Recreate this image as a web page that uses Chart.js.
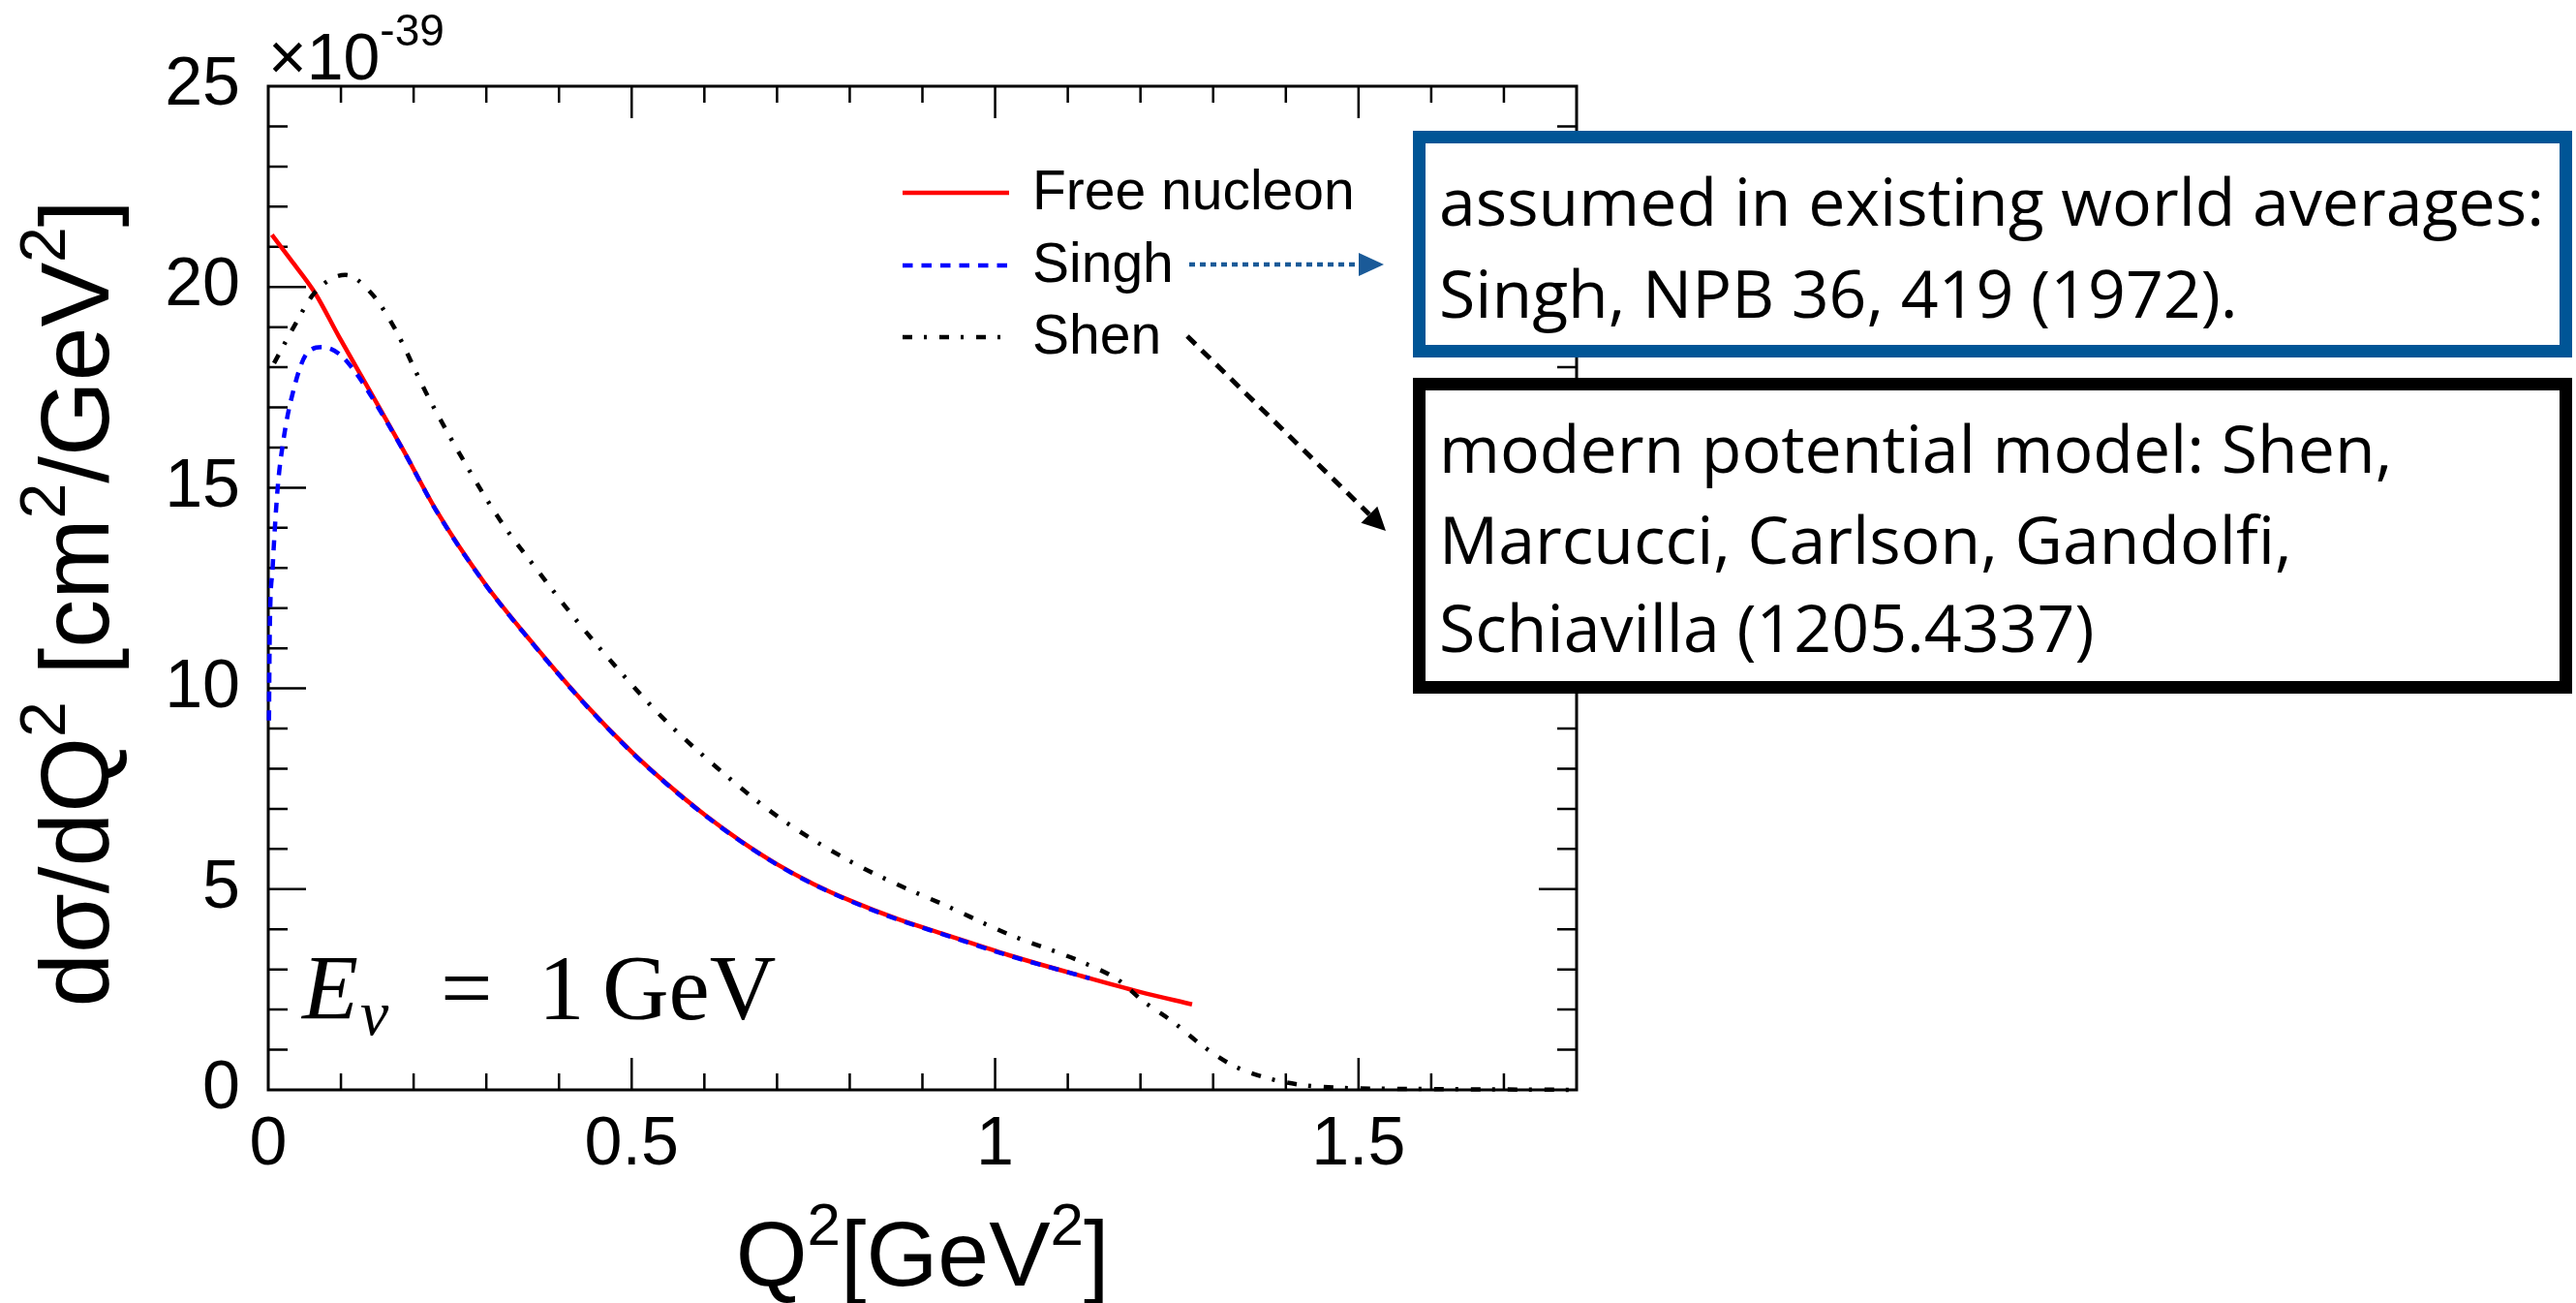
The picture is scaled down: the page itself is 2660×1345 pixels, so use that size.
<!DOCTYPE html>
<html>
<head>
<meta charset="utf-8">
<script src="https://cdn.jsdelivr.net/npm/chart.js@4.4.1/dist/chart.umd.min.js"></script>
<style>
  html, body { margin: 0; padding: 0; background: #fff; }
  #wrap { position: relative; width: 2660px; height: 1345px; overflow: hidden; background: #fff; }
  #c { position: absolute; left: 0; top: 0; }
  .box { position: absolute; box-sizing: border-box; background: #fff; border: 13px solid #000; }
  .box .ln { position: absolute; left: 14px; white-space: nowrap; font-family: 'Open Sans', sans-serif;
             font-size: 68px; line-height: 68px; color: #000; }
</style>
</head>
<body>
<div id="wrap">
  <canvas id="c" width="2660" height="1345"></canvas>
  <div class="box" id="boxSingh" style="left:1459px; top:135px; width:1197px; height:234px; border-color:#005596;">
    <div class="ln" style="top:25px;">assumed in existing world averages:</div>
    <div class="ln" style="top:120px;">Singh, NPB 36, 419 (1972).</div>
  </div>
  <div class="box" id="boxShen" style="left:1459px; top:390px; width:1197px; height:326px;">
    <div class="ln" style="top:25px;">modern potential model: Shen,</div>
    <div class="ln" style="top:119px;">Marcucci, Carlson, Gandolfi,</div>
    <div class="ln" style="top:210px;">Schiavilla (1205.4337)</div>
  </div>
</div>
<script>
// ---------------- data ----------------
const seriesLabels = ['Free nucleon', 'Singh', 'Shen'];

const q2Free   = [0.005, 0.03, 0.064, 0.097, 0.141, 0.186, 0.23, 0.297, 0.364, 0.435, 0.5, 0.55, 0.6, 0.65, 0.7, 0.75, 0.8, 0.865, 0.931, 1.018, 1.12, 1.199, 1.271];
const sigFree  = [21.3, 20.7, 19.86, 18.77, 17.37, 15.93, 14.47, 12.64, 11.12, 9.63, 8.42, 7.6, 6.86, 6.2, 5.62, 5.13, 4.72, 4.26, 3.87, 3.36, 2.83, 2.44, 2.13];

const q2Singh  = [0.001, 0.002, 0.006, 0.013, 0.021, 0.031, 0.053, 0.075, 0.097, 0.119, 0.141, 0.186, 0.23, 0.297, 0.364, 0.435, 0.5, 0.55, 0.6, 0.65, 0.7, 0.75, 0.8, 0.865, 0.931, 1.018, 1.13];
const sigSingh = [9.2, 11.3, 13.0, 15.0, 16.2, 17.16, 18.34, 18.5, 18.34, 17.9, 17.3, 15.92, 14.46, 12.63, 11.11, 9.62, 8.41, 7.59, 6.85, 6.19, 5.61, 5.12, 4.71, 4.25, 3.86, 3.35, 2.78];

const q2Shen   = [0.008, 0.035, 0.064, 0.106, 0.141, 0.173, 0.217, 0.266, 0.319, 0.373, 0.426, 0.488, 0.541, 0.6, 0.7, 0.8, 0.865, 0.931, 1.018, 1.12, 1.17, 1.203, 1.245, 1.286, 1.328, 1.375, 1.423, 1.476, 1.53, 1.6, 1.7, 1.8];
const sigShen  = [18.1, 19.0, 19.86, 20.3, 19.86, 19.0, 17.37, 15.76, 14.19, 12.88, 11.65, 10.34, 9.3, 8.3, 6.82, 5.7, 5.12, 4.6, 3.88, 3.18, 2.73, 2.22, 1.69, 1.09, 0.6, 0.29, 0.12, 0.05, 0.03, 0.02, 0.01, 0.0];

const xTickValues = [0, 0.5, 1, 1.5];
const xTickLabels = ['0', '0.5', '1', '1.5'];
const yTickValues = [0, 5, 10, 15, 20, 25];
const yTickLabels = ['0', '5', '10', '15', '20', '25'];
const xRange = [0, 1.8];
const yRange = [0, 25];
const xMinorStep = 0.1, yMinorStep = 1;

// ---------------- helpers ----------------
function toXY(xs, ys) { return xs.map((x, i) => ({ x: x, y: ys[i] })); }

function drawRich(ctx, parts, x, y, align) {
  let total = 0;
  const widths = parts.map(p => {
    ctx.font = (p.style || '') + ' ' + p.size + 'px ' + p.family;
    const w = ctx.measureText(p.t).width;
    total += w + (p.gap || 0);
    return w;
  });
  let cx = align === 'center' ? x - total / 2 : (align === 'right' ? x - total : x);
  parts.forEach((p, i) => {
    ctx.font = (p.style || '') + ' ' + p.size + 'px ' + p.family;
    ctx.fillText(p.t, cx, y + (p.dy || 0));
    cx += widths[i] + (p.gap || 0);
  });
}

function arrowHead(ctx, x0, y0, x1, y1, len, half, color) {
  const a = Math.atan2(y1 - y0, x1 - x0);
  const bx = x1 - len * Math.cos(a), by = y1 - len * Math.sin(a);
  ctx.save();
  ctx.setLineDash([]);
  ctx.fillStyle = color;
  ctx.beginPath();
  ctx.moveTo(x1, y1);
  ctx.lineTo(bx + half * Math.sin(a), by - half * Math.cos(a));
  ctx.lineTo(bx - half * Math.sin(a), by + half * Math.cos(a));
  ctx.closePath();
  ctx.fill();
  ctx.restore();
}

const SANS = "'Liberation Sans', Arial, sans-serif";
const SERIF = "'Liberation Serif', 'Times New Roman', serif";

const rootStyle = {
  id: 'rootStyle',
  beforeDatasetsDraw(chart) {
    const { ctx, chartArea: a, scales: { x, y } } = chart;
    ctx.save();
    ctx.strokeStyle = '#000';
    ctx.lineWidth = 3;
    ctx.strokeRect(a.left, a.top, a.right - a.left, a.bottom - a.top);
    ctx.lineWidth = 2.5;
    ctx.beginPath();
    const nx = Math.round((xRange[1] - xRange[0]) / xMinorStep);
    for (let i = 1; i < nx; i++) {
      const px = x.getPixelForValue(xRange[0] + i * xMinorStep);
      const len = (i % 5 === 0) ? 33 : 17;
      ctx.moveTo(px, a.bottom); ctx.lineTo(px, a.bottom - len);
      ctx.moveTo(px, a.top); ctx.lineTo(px, a.top + len);
    }
    const ny = Math.round((yRange[1] - yRange[0]) / yMinorStep);
    for (let i = 1; i < ny; i++) {
      const py = y.getPixelForValue(yRange[0] + i * yMinorStep);
      const len = (i % 5 === 0) ? 39 : 20;
      ctx.moveTo(a.left, py); ctx.lineTo(a.left + len, py);
      ctx.moveTo(a.right, py); ctx.lineTo(a.right - len, py);
    }
    ctx.stroke();
    ctx.restore();
  },
  afterDraw(chart) {
    const { ctx, chartArea: a } = chart;
    ctx.save();
    ctx.fillStyle = '#000';
    ctx.textBaseline = 'alphabetic';

    // exponent label
    drawRich(ctx, [
      { t: '\u00d710', size: 68, family: SANS },
      { t: '-39', size: 46, family: SANS, dy: -35 }
    ], a.left, a.top - 7, 'left');

    // y title (rotated)
    ctx.save();
    ctx.translate(112, (a.top + a.bottom) / 2 + 16);
    ctx.rotate(-Math.PI / 2);
    drawRich(ctx, [
      { t: 'd\u03c3/dQ', size: 100, family: SANS },
      { t: '2', size: 66, family: SANS, dy: -45 },
      { t: ' [cm', size: 100, family: SANS },
      { t: '2', size: 66, family: SANS, dy: -45 },
      { t: '/GeV', size: 100, family: SANS },
      { t: '2', size: 66, family: SANS, dy: -45 },
      { t: ']', size: 100, family: SANS }
    ], 0, 0, 'center');
    ctx.restore();

    // x title
    drawRich(ctx, [
      { t: 'Q', size: 95, family: SANS },
      { t: '2', size: 62, family: SANS, dy: -42 },
      { t: '[GeV', size: 95, family: SANS },
      { t: '2', size: 62, family: SANS, dy: -42 },
      { t: ']', size: 95, family: SANS }
    ], (a.left + a.right) / 2, 1327, 'center');

    // E_nu = 1 GeV
    const ex = a.left + 35, ey = a.bottom - 73;
    ctx.font = 'italic 95px ' + SERIF; ctx.fillText('E', ex, ey);
    ctx.font = 'italic 66px ' + SERIF; ctx.fillText('\u03bd', ex + 60, ey + 16);
    ctx.font = '95px ' + SERIF; ctx.fillText('=', ex + 143, ey);
    ctx.fillText('1', ex + 244, ey);
    ctx.fillText('GeV', ex + 310, ey);

    // legend
    const ds = chart.data.datasets;
    const lx0 = 932, lx1 = 1042, ly = [199, 274, 348];
    ds.forEach((d, i) => {
      ctx.save();
      ctx.strokeStyle = d.borderColor;
      ctx.lineWidth = d.borderWidth;
      ctx.setLineDash(d.borderDash || []);
      ctx.beginPath(); ctx.moveTo(lx0, ly[i]); ctx.lineTo(lx1, ly[i]); ctx.stroke();
      ctx.restore();
      ctx.font = '57px ' + SANS;
      ctx.fillText(d.label, 1066, ly[i] + 17);
    });

    // arrow legend(Singh) -> blue box
    const blue = '#1a5a98';
    ctx.save();
    ctx.strokeStyle = blue; ctx.lineWidth = 4.5; ctx.setLineDash([6, 5]);
    ctx.beginPath(); ctx.moveTo(1228, 273); ctx.lineTo(1405, 273); ctx.stroke();
    ctx.restore();
    arrowHead(ctx, 1228, 273, 1429, 273, 26, 12, blue);

    // arrow legend(Shen) -> black box
    ctx.save();
    ctx.strokeStyle = '#000'; ctx.lineWidth = 5; ctx.setLineDash([12, 9]);
    ctx.beginPath(); ctx.moveTo(1226, 347); ctx.lineTo(1414, 531); ctx.stroke();
    ctx.restore();
    arrowHead(ctx, 1226, 347, 1431, 548, 24, 12, '#000');

    ctx.restore();
  }
};

const common = { pointRadius: 0, borderWidth: 4.5, fill: false, cubicInterpolationMode: 'monotone', clip: 12 };

new Chart(document.getElementById('c'), {
  type: 'line',
  data: {
    datasets: [
      Object.assign({ label: seriesLabels[0], data: toXY(q2Free, sigFree), borderColor: '#ff0000', order: 3 }, common),
      Object.assign({ label: seriesLabels[1], data: toXY(q2Singh, sigSingh), borderColor: '#0000ff', borderDash: [10.5, 9], order: 2 }, common),
      Object.assign({ label: seriesLabels[2], data: toXY(q2Shen, sigShen), borderColor: '#000000', borderDash: [10, 12, 3, 13], order: 1 }, common)
    ]
  },
  options: {
    responsive: false,
    animation: false,
    devicePixelRatio: 1,
    layout: { padding: { left: 0, top: 89, right: 1032, bottom: 0 } },
    plugins: { legend: { display: false }, tooltip: { enabled: false } },
    scales: {
      x: {
        type: 'linear', min: xRange[0], max: xRange[1],
        grid: { display: false, drawTicks: false }, border: { display: false },
        afterFit(s) { s.height = 220; },
        afterBuildTicks(s) { s.ticks = xTickValues.map(v => ({ value: v })); },
        ticks: {
          padding: 16, color: '#000', maxRotation: 0, autoSkip: false,
          font: { family: SANS, size: 70 },
          callback: (v) => { const i = xTickValues.indexOf(v); return i >= 0 ? xTickLabels[i] : ''; }
        }
      },
      y: {
        type: 'linear', min: yRange[0], max: yRange[1],
        grid: { display: false, drawTicks: false }, border: { display: false },
        afterFit(s) { s.width = 277; },
        afterBuildTicks(s) { s.ticks = yTickValues.map(v => ({ value: v })); },
        ticks: {
          padding: 29, color: '#000', autoSkip: false,
          font: { family: SANS, size: 70 },
          callback: (v) => { const i = yTickValues.indexOf(v); return i >= 0 ? yTickLabels[i] : ''; }
        }
      }
    }
  },
  plugins: [rootStyle]
});
</script>
</body>
</html>
